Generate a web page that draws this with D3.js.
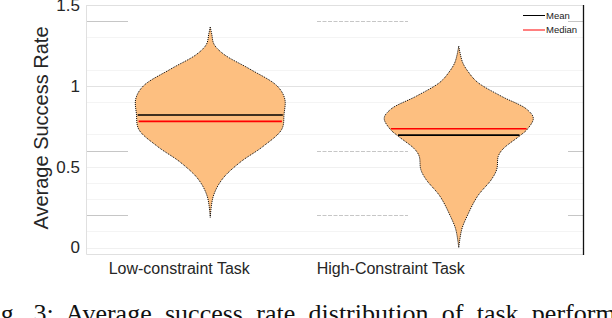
<!DOCTYPE html>
<html>
<head>
<meta charset="utf-8">
<script src="https://cdn.jsdelivr.net/npm/d3@7"></script>
<style>
  body { margin: 0; background: #fff; }
  svg { display: block; }
</style>
</head>
<body>
<div id="chart"></div>
<script>
// data
const categories = ["Low-constraint Task", "High-Constraint Task"];
// violin outlines: value levels and relative density (1 = widest)
const lowValues   = [1.364, 1.32, 1.258, 1.196, 1.104, 0.998, 0.918, 0.825, 0.732, 0.626, 0.527, 0.422, 0.316, 0.186];
const lowDensity  = [0,     0.02, 0.05,  0.18,  0.53,  0.90,  1.00,  0.99,  0.96,  0.71,  0.40,  0.16,  0.04,  0];
const highValues  = [1.246, 1.147, 1.085, 1.023, 0.936, 0.856, 0.80, 0.732, 0.688, 0.608, 0.564, 0.484, 0.422, 0.316, 0.192, 0.112, 0.0];
const highDensity = [0,     0.05,  0.13,  0.25,  0.57,  0.91,  1.00, 0.92,  0.81,  0.59,  0.53,  0.51,  0.44,  0.25,  0.11,  0.04,  0];
const means   = [0.82, 0.695];
const medians = [0.78, 0.735];
const yTicks = [0, 0.5, 1, 1.5];
const yTickLabels = ["0", "0.5", "1", "1.5"];
const minorTicks = [0.1, 0.3, 0.4, 0.7, 0.9, 1.1, 1.3];
const darkMinor = [0.2, 0.6, 1.4];

const W = 612, H = 318;
const mLeft = 86, mRight = 583, mTop = 5, mBottom = 254;

const svg = d3.select("#chart").append("svg")
  .attr("width", W).attr("height", H);

const x = d3.scaleLinear().domain([0.5, 2.5]).range([mLeft, mRight]);
const y = d3.scaleLinear().domain([-0.04, 1.5]).range([mBottom, mTop]);
const halfW = 0.3; // x units at density 1

// grid
const grid = svg.append("g");
grid.selectAll(".minor").data(minorTicks).join("line")
  .attr("x1", mLeft).attr("x2", mRight)
  .attr("y1", d => Math.round(y(d)) + 0.5).attr("y2", d => Math.round(y(d)) + 0.5)
  .attr("stroke", "#f4f4f4");
// rasterised darker grid fragments
const segs = [[mLeft, 128, null], [317, 408, "4,1.5"], [568, mRight, null]];
darkMinor.forEach(v => {
  segs.forEach(s => {
    grid.append("line")
      .attr("x1", s[0]).attr("x2", s[1])
      .attr("y1", Math.round(y(v)) + 0.5).attr("y2", Math.round(y(v)) + 0.5)
      .attr("stroke", "#c6c6c6")
      .attr("stroke-dasharray", s[2]);
  });
});
grid.selectAll(".major").data(yTicks).join("line")
  .attr("x1", mLeft).attr("x2", mRight)
  .attr("y1", d => Math.round(y(d)) + 0.5).attr("y2", d => Math.round(y(d)) + 0.5)
  .attr("stroke", d => d === 1 || d === 1.5 ? "#e2e2e2" : "#f0f0f0");

// box
svg.append("path")
  .attr("d", `M${mLeft + 0.5},${mTop + 0.5}H${mRight}M${mLeft + 0.5},${mTop + 0.5}V${mBottom + 0.5}H${mRight}`)
  .attr("fill", "none").attr("stroke", "#e0e0e0");
svg.append("line")
  .attr("x1", mRight + 0.5).attr("x2", mRight + 0.5)
  .attr("y1", mTop).attr("y2", mBottom + 1)
  .attr("stroke", "#111").attr("stroke-width", 1.3);

// y axis labels
const yAxis = svg.append("g").attr("transform", `translate(${mLeft},0)`)
  .call(d3.axisLeft(y).tickValues(yTicks).tickFormat((d, i) => yTickLabels[i]).tickSize(0).tickPadding(6));
yAxis.select(".domain").remove();
yAxis.selectAll("text")
  .attr("font-family", "Liberation Sans, Arial, sans-serif")
  .attr("font-size", 17).attr("fill", "#262626");

svg.append("text")
  .attr("transform", `translate(48,128) rotate(-90)`)
  .attr("text-anchor", "middle")
  .attr("font-family", "Liberation Sans, Arial, sans-serif")
  .attr("font-size", 20).attr("fill", "#262626")
  .text("Average Success Rate");

// violins
const violins = [
  { pos: 1, values: lowValues, density: lowDensity },
  { pos: 2, values: highValues, density: highDensity }
];
violins.forEach((v, i) => {
  const pts = v.values.map((val, k) => [val, v.density[k]]);
  const area = d3.area()
    .y(d => y(d[0]))
    .x0(d => x(v.pos - d[1] * halfW))
    .x1(d => x(v.pos + d[1] * halfW))
    .curve(d3.curveCatmullRom.alpha(0.5));
  svg.append("path")
    .attr("d", area(pts))
    .attr("fill", "#fdbf80")
    .attr("stroke", "#000")
    .attr("stroke-width", 1)
    .attr("stroke-dasharray", "1,1");

  const dens = d3.scaleLinear().domain(v.values).range(v.density);
  [[means[i], "#000"], [medians[i], "#ff0000"]].forEach(([m, c]) => {
    const dw = dens(m) * halfW * 0.985;
    svg.append("line")
      .attr("x1", x(v.pos - dw)).attr("x2", x(v.pos + dw))
      .attr("y1", y(m)).attr("y2", y(m))
      .attr("stroke", c).attr("stroke-width", 1.6);
  });
});

// category labels (shifted in the original export)
const labelShift = [-31, -68];
svg.selectAll(".cat").data(categories).join("text")
  .attr("x", (d, i) => x(i + 1) + labelShift[i])
  .attr("y", 274)
  .attr("text-anchor", "middle")
  .attr("font-family", "Liberation Sans, Arial, sans-serif")
  .attr("font-size", 16).attr("fill", "#262626")
  .text(d => d);

// legend
const legend = [["Mean", "#000"], ["Median", "#ff0000"]];
legend.forEach(([name, c], i) => {
  const ly = 15.5 + i * 14.5;
  svg.append("line")
    .attr("x1", 523).attr("x2", 545).attr("y1", ly).attr("y2", ly)
    .attr("stroke", c).attr("stroke-width", 1);
  svg.append("text")
    .attr("x", 546).attr("y", ly + 3.3)
    .attr("font-family", "Liberation Sans, Arial, sans-serif")
    .attr("font-size", 9.5).attr("fill", "#222")
    .text(name);
});

// caption (cut off by the crop)
svg.append("text")
  .attr("x", -21).attr("y", 322)
  .attr("font-family", "Liberation Serif, Times New Roman, serif")
  .attr("font-size", 26).attr("word-spacing", 6.8).attr("fill", "#111")
  .text("Fig. 3: Average success rate distribution of task performance");
</script>
</body>
</html>
